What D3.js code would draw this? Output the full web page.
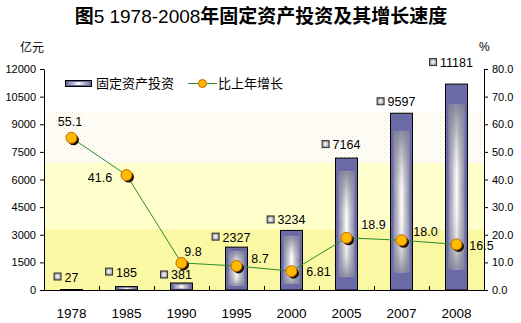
<!DOCTYPE html>
<html>
<head>
<meta charset="utf-8">
<script src="https://cdn.jsdelivr.net/npm/d3@7"></script>
<style>
  html, body { margin: 0; padding: 0; background: #fff; }
  svg { display: block; }
  text { font-family: "Liberation Sans", Arial, sans-serif; fill: #000; }
  .cjk { font-family: "Noto Sans CJK SC", sans-serif; }
</style>
</head>
<body>
<svg id="chart" width="521" height="323"></svg>
<script>
// Fixed-asset investment (100 million yuan) and year-on-year growth (%)
const years = ["1978", "1985", "1990", "1995", "2000", "2005", "2007", "2008"];
const investment = [27, 185, 381, 2327, 3234, 7164, 9597, 11181];
const growth = [55.1, 41.6, 9.8, 8.7, 6.81, 18.9, 18.0, 16.5];
const growthLabels = ["55.1", "41.6", "9.8", "8.7", "6.81", "18.9", "18.0", "16.5"];
const leftTicks = [0, 1500, 3000, 4500, 6000, 7500, 9000, 10500, 12000];
const rightTicks = [0, 10, 20, 30, 40, 50, 60, 70, 80];

// Label placement (layout only)
const barLabelLift = [8, 10, 3.5, 5.5, 6, 9, 7, 17];
const growthLabelOffset = [[-1.5, -16], [-26.5, 2.6], [11.5, -11], [23.5, -7],
                           [27, 0], [27, -13], [24, -9], [25, 1.5]];

const svg = d3.select("#chart");
const W = 521, H = 323;
const plot = { left: 44, right: 484, top: 69, bottom: 290 };

const x = d3.scaleBand().domain(years).range([plot.left, plot.right]).padding(0);
const yL = d3.scaleLinear().domain([0, 12000]).range([plot.bottom, plot.top]);
const yR = d3.scaleLinear().domain([0, 80]).range([plot.bottom, plot.top]);
const barW = 22;

const defs = svg.append("defs");

// dotted beige band pattern
const pat = defs.append("pattern").attr("id", "dots")
  .attr("width", 4).attr("height", 4).attr("patternUnits", "userSpaceOnUse");
pat.append("rect").attr("width", 4).attr("height", 4).attr("fill", "#FFFEF8");
pat.append("rect").attr("x", 0).attr("y", 0).attr("width", 1).attr("height", 1).attr("fill", "#E9E2CA");
pat.append("rect").attr("x", 2).attr("y", 2).attr("width", 1).attr("height", 1).attr("fill", "#EEE8D4");

// bar inner sheen: horizontal
const gh = defs.append("linearGradient").attr("id", "sheenH").attr("x1", 0).attr("x2", 1).attr("y1", 0).attr("y2", 0);
[[0, "#8484AE"], [0.22, "#B4B4C0"], [0.5, "#FFFFFF"], [0.78, "#B4B4C0"], [1, "#8484AE"]]
  .forEach(([o, c]) => gh.append("stop").attr("offset", o).attr("stop-color", c));
// bar inner sheen: vertical shading
const gv = defs.append("linearGradient").attr("id", "sheenV").attr("x1", 0).attr("x2", 0).attr("y1", 0).attr("y2", 1);
[[0, "#7E7E96", 0.9], [0.3, "#9A9AA8", 0.25], [0.5, "#FFFFFF", 0], [0.82, "#9A9AA8", 0.3], [1, "#7E7E96", 0.85]]
  .forEach(([o, c, a]) => gv.append("stop").attr("offset", o).attr("stop-color", c).attr("stop-opacity", a));
// small key square
const gk = defs.append("radialGradient").attr("id", "keySq");
[[0, "#FFFFFF"], [0.6, "#C8C8CC"], [1, "#8A8A90"]]
  .forEach(([o, c]) => gk.append("stop").attr("offset", o).attr("stop-color", c));

// background bands
const bands = [
  { from: 9660, to: 6900, fill: "url(#dots)" },
  { from: 6900, to: 3300, fill: "#FFFFCC" },
  { from: 3300, to: 0, fill: "#FAF8A2" }
];
svg.append("g").selectAll("rect").data(bands).join("rect")
  .attr("x", plot.left).attr("width", plot.right - plot.left)
  .attr("y", d => yL(d.from)).attr("height", d => yL(d.to) - yL(d.from))
  .attr("fill", d => d.fill);

// title
const title = svg.append("text").attr("x", W / 2 + 0.5).attr("y", 23)
  .attr("text-anchor", "middle").style("font-size", "19px");
title.append("tspan").attr("class", "cjk").attr("font-weight", "bold").text("图");
title.append("tspan").text("5 1978-2008");
title.append("tspan").attr("class", "cjk").attr("font-weight", "bold").text("年固定资产投资及其增长速度");

// unit labels
svg.append("text").attr("class", "cjk").attr("x", 20).attr("y", 52).style("font-size", "12px").text("亿元");
svg.append("text").attr("x", 479).attr("y", 51).style("font-size", "12px").text("%");

// bars
const bars = svg.append("g");
years.forEach((yr, i) => {
  const v = investment[i];
  const bx = x(yr) + x.bandwidth() / 2 - barW / 2;
  const top = yL(v), h = yL(0) - yL(v);
  const g = bars.append("g");
  g.append("rect").attr("x", bx).attr("y", top).attr("width", barW).attr("height", h)
    .attr("fill", "#6A6AA6").attr("stroke", "#000").attr("stroke-width", 1);
  if (h > 2) {
    const inset = Math.max(1, h * 0.1);
    const ih = Math.max(1, h - 2 * inset);
    g.append("rect").attr("x", bx + 3).attr("y", top + inset).attr("width", barW - 6).attr("height", ih)
      .attr("fill", "url(#sheenH)");
    g.append("rect").attr("x", bx + 3).attr("y", top + inset).attr("width", barW - 6).attr("height", ih)
      .attr("fill", "url(#sheenV)");
  }
});

// bar value labels with key square
const barLabels = svg.append("g").style("font-size", "12.5px");
years.forEach((yr, i) => {
  const cx = x(yr) + x.bandwidth() / 2;
  const base = yL(investment[i]) - barLabelLift[i];
  const t = barLabels.append("text").attr("x", cx).attr("y", base)
    .attr("text-anchor", "middle").text(investment[i]);
  const w = t.node().getComputedTextLength();
  barLabels.append("rect").attr("x", cx - w / 2 - 10.5).attr("y", base - 8.5)
    .attr("width", 7).attr("height", 7)
    .attr("fill", "url(#keySq)").attr("stroke", "#333").attr("stroke-width", 1);
});

// axes
const axL = svg.append("g").attr("transform", `translate(${plot.left},0)`)
  .call(d3.axisLeft(yL).tickValues(leftTicks).tickFormat(d3.format("d")).tickSize(4).tickSizeOuter(0).tickPadding(4));
const axR = svg.append("g").attr("transform", `translate(${plot.right},0)`)
  .call(d3.axisRight(yR).tickValues(rightTicks).tickFormat(d3.format(".1f")).tickSize(4).tickSizeOuter(0).tickPadding(4));
[axL, axR].forEach(a => {
  a.select(".domain").attr("stroke", "#000");
  a.selectAll(".tick line").attr("stroke", "#000");
  a.selectAll("text").style("font-size", "11px").style("font-family", "Liberation Sans, Arial, sans-serif");
});

// category axis: inner ticks on boundaries
const axB = svg.append("g");
axB.append("line").attr("x1", plot.left).attr("x2", plot.right)
  .attr("y1", plot.bottom + 0.5).attr("y2", plot.bottom + 0.5).attr("stroke", "#000");
axB.selectAll("line.tk").data(years.slice(1)).join("line").attr("class", "tk")
  .attr("x1", d => Math.round(x(d)) + 0.5).attr("x2", d => Math.round(x(d)) + 0.5)
  .attr("y1", plot.bottom - 4).attr("y2", plot.bottom).attr("stroke", "#000");
axB.selectAll("text").data(years).join("text")
  .attr("x", d => x(d) + x.bandwidth() / 2).attr("y", 318)
  .attr("text-anchor", "middle").style("font-size", "13.5px").text(d => d);

// growth line
const px = (d, i) => x(years[i]) + x.bandwidth() / 2;
svg.append("path").datum(growth)
  .attr("d", d3.line().x(px).y(d => yR(d)))
  .attr("fill", "none").attr("stroke", "#2E8B2E").attr("stroke-width", 1);

const pts = svg.append("g");
growth.forEach((v, i) => {
  const cx = px(v, i), cy = yR(v);
  pts.append("circle").attr("cx", cx + 2).attr("cy", cy + 2).attr("r", 5.5).attr("fill", "#1A1200");
  pts.append("circle").attr("cx", cx).attr("cy", cy).attr("r", 5.5)
    .attr("fill", "#FFBA00").attr("stroke", "#C86400").attr("stroke-width", 1);
});

// growth labels
const gl = svg.append("g").style("font-size", "12.5px");
growth.forEach((v, i) => {
  const [dx, dy] = growthLabelOffset[i];
  gl.append("text").attr("x", px(v, i) + dx).attr("y", yR(v) + dy + 4.5)
    .attr("text-anchor", "middle").text(growthLabels[i]);
});

// legend
const lg = svg.append("g");
lg.append("rect").attr("x", 65.5).attr("y", 80.5).attr("width", 26).attr("height", 6)
  .attr("fill", "#6A6AA6").attr("stroke", "#000");
lg.append("rect").attr("x", 68).attr("y", 82).attr("width", 21).attr("height", 3).attr("fill", "url(#sheenH)");
lg.append("text").attr("class", "cjk").attr("x", 96).attr("y", 87.5).style("font-size", "13px").text("固定资产投资");
lg.append("line").attr("x1", 188).attr("x2", 217).attr("y1", 83.5).attr("y2", 83.5).attr("stroke", "#2E8B2E");
lg.append("circle").attr("cx", 202.5).attr("cy", 83.5).attr("r", 4)
  .attr("fill", "#FFBA00").attr("stroke", "#C86400");
lg.append("text").attr("class", "cjk").attr("x", 218).attr("y", 87.5).style("font-size", "13px").text("比上年增长");
</script>
</body>
</html>
